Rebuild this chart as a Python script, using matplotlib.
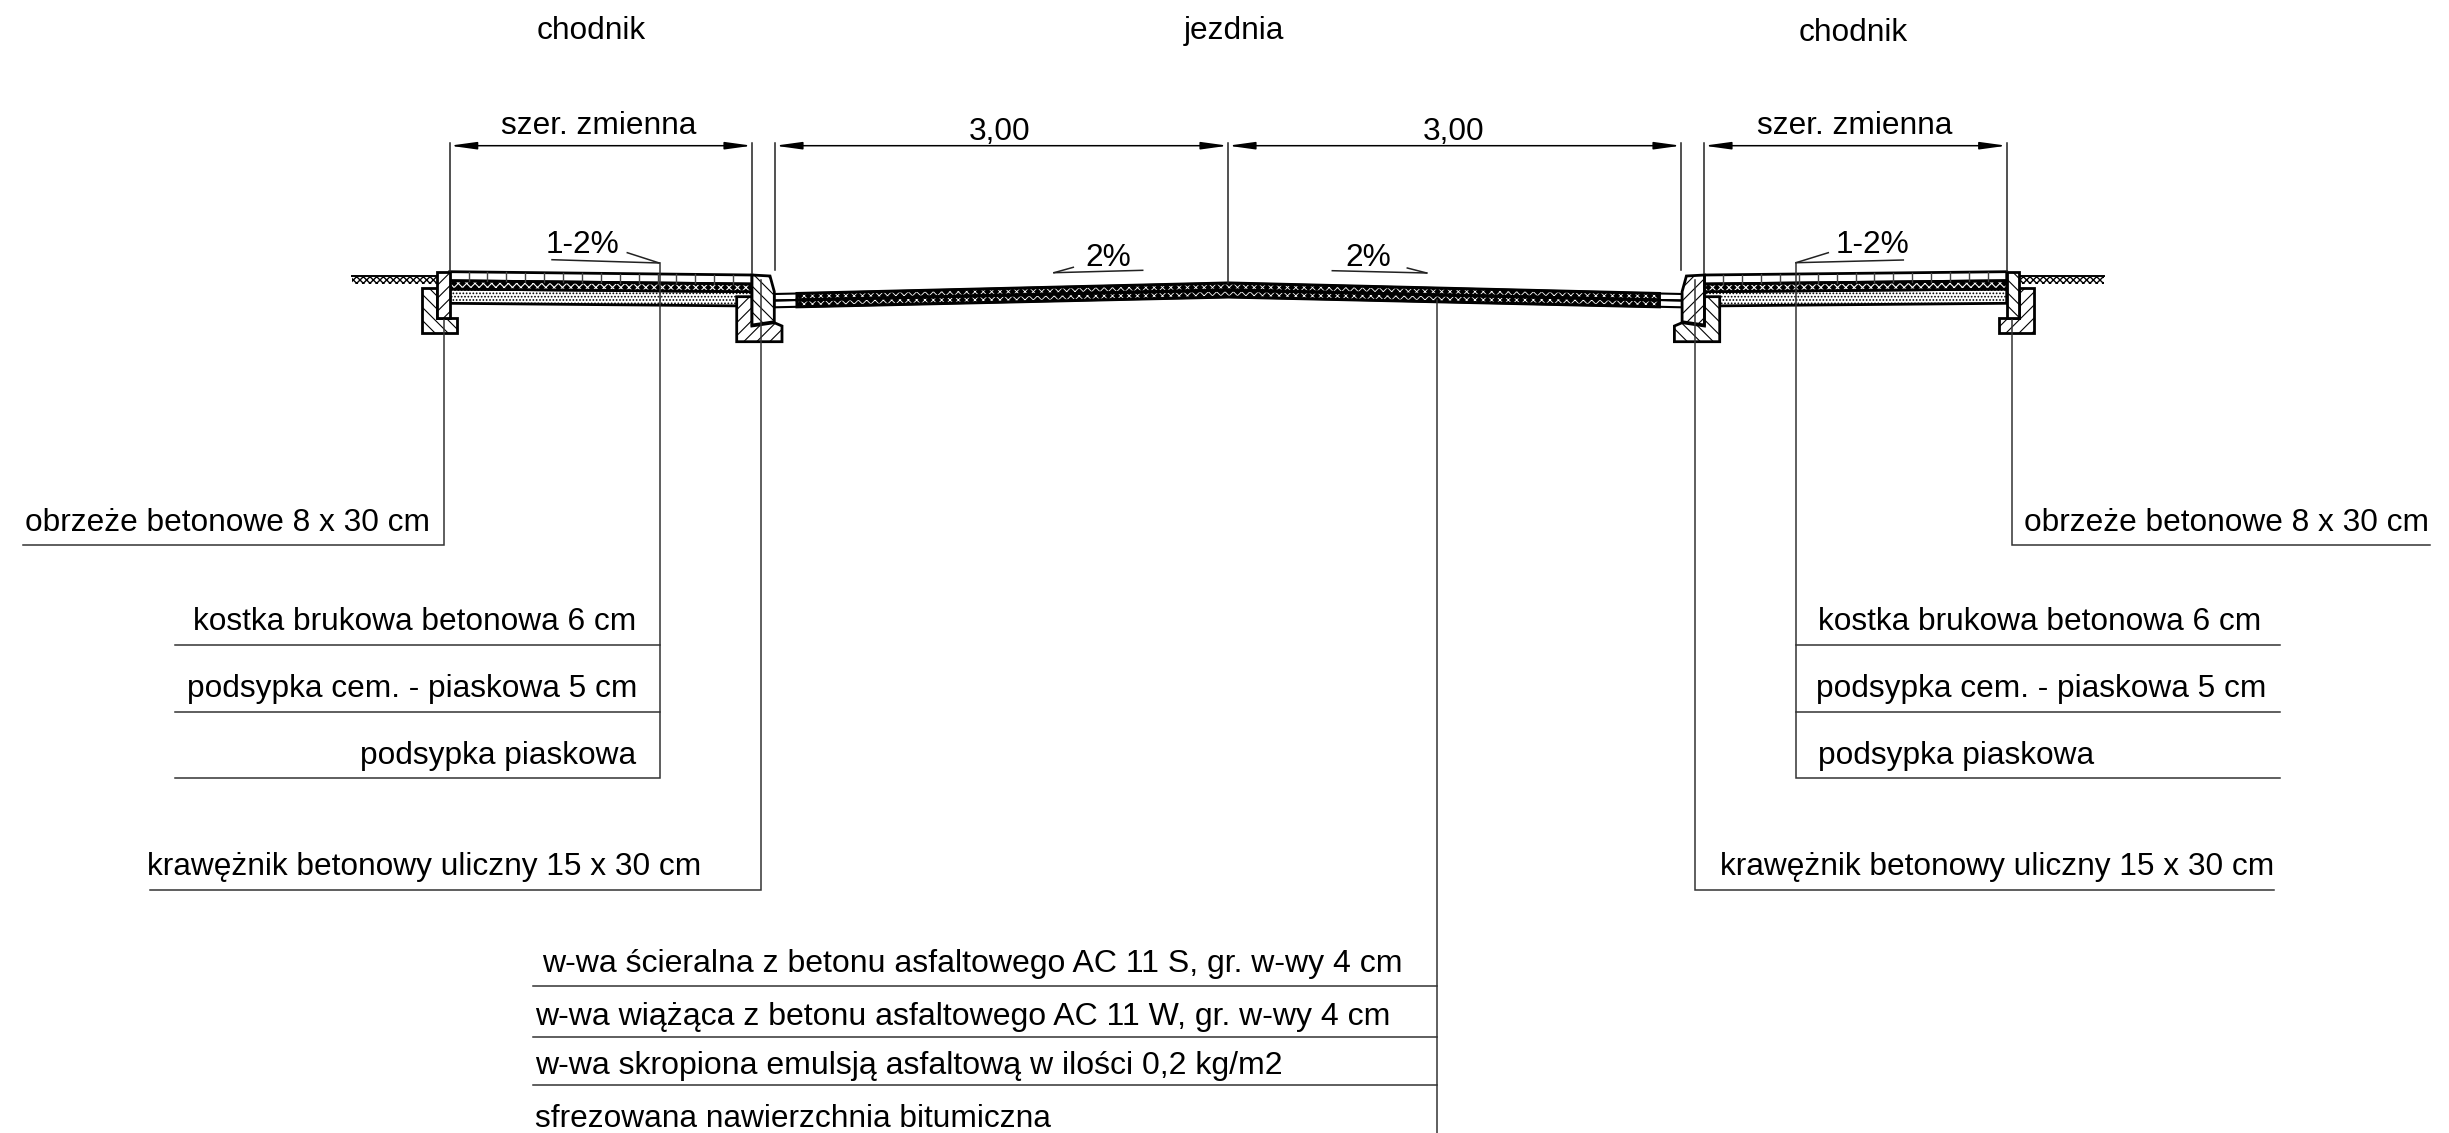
"""Przekroj drogi: chodnik / jezdnia / chodnik."""
import matplotlib
matplotlib.use("Agg")
import matplotlib.pyplot as plt
from matplotlib.patches import Polygon, FancyArrowPatch

plt.rcParams["font.family"] = ["Liberation Sans", "DejaVu Sans"]

W, H = 2449, 1133
MIRROR = 2456.4  # x' = MIRROR - x, the right side is the left one flipped
FS = 22.8
FS_ROAD = 23

# --- sidewalk, left side, in picture pixels
pave_x = [449.7, 752]
pave_top = [271.7, 275]
pave_bot = [280.7, 284]
dark_bot = [289, 291.7]
sand_bot = [303.3, 306]
edging = [(437.3, 272.3), (449.7, 272.3), (449.7, 318), (437.3, 318)]
edging_foot = [(422.3, 288), (437.3, 288), (437.3, 318), (457.3, 318),
               (457.3, 333.3), (422.3, 333.3)]
kerb = [(752, 275), (770, 276), (774.3, 291.7), (774.3, 321.7), (752, 325)]
kerb_foot = [(736.7, 296.7), (752, 296.7), (752, 326), (774.3, 322.7),
             (782, 326), (782, 341.7), (736.7, 341.7)]
grass_x = [352, 437]
grass_y = [276.7, 284]

# --- carriageway
road_x = [774.3, 797, 1228.2, 1659.4, 1682]
road_top = [294, 293.5, 283, 293.5, 294]
road_mid = [300.5, 300, 290, 300, 300.5]
road_bot = [307.3, 306.8, 297, 306.8, 307.3]

# --- dimensions
dim_spans = [(449.7, 752), (775, 1228), (1228, 1681), (1704, 2006.7)]
dim_y = 145.7
ext_lines = [(449.7, 271), (752, 273), (775, 270), (1228, 283),
             (1681, 270), (1704, 273), (2006.7, 271)]
dim_labels = ["szer. zmienna", "3,00", "3,00", "szer. zmienna"]
dim_label_x = [599, 1000, 1454, 1855]
dim_label_y = [134, 140, 140, 134]

section_labels = ["chodnik", "jezdnia", "chodnik"]
section_x = [591, 1234, 1853]
section_y = [39, 39, 41]

# --- slope marks: line start, line end, tick start
slopes = [((552, 259.7), (659.3, 263), (627.3, 252.7)),
          ((1142.7, 270.3), (1054, 272.7), (1073.3, 267.3)),
          ((1332.3, 270.7), (1426.7, 273), (1407.3, 268)),
          ((1903.3, 260), (1796, 262.7), (1828.3, 252.7))]
slope_labels = ["1-2%", "2%", "2%", "1-2%"]
slope_x = [582.7, 1108.7, 1368.3, 1872.7]
slope_y = [252.7, 265.7, 265.7, 252.7]

# --- leaders: polyline points
leaders = [
    [(23, 545), (444.3, 545), (444.3, 320)],
    [(175, 778), (659.7, 778), (659.7, 263)],
    [(175, 712), (659.7, 712)],
    [(175, 645), (659.7, 645)],
    [(150, 890), (760.7, 890), (760.7, 280)],
    [(2430, 545), (2011.7, 545), (2011.7, 320)],
    [(2280, 778), (1795.7, 778), (1795.7, 263)],
    [(2280, 712), (1795.7, 712)],
    [(2280, 645), (1795.7, 645)],
    [(2274, 890), (1695, 890), (1695, 280)],
    [(1436.7, 1133), (1436.7, 300)],
    [(533, 986), (1436.7, 986)],
    [(533, 1037), (1436.7, 1037)],
    [(533, 1085), (1436.7, 1085)],
]

# text, x, baseline y, alignment, size
notes = [
    ("obrzeże betonowe 8 x 30 cm", 430, 531, "right", FS),
    ("kostka brukowa betonowa 6 cm", 636, 630, "right", FS),
    ("podsypka cem. - piaskowa 5 cm", 637, 697, "right", FS),
    ("podsypka piaskowa", 636, 764, "right", FS),
    ("krawężnik betonowy uliczny 15 x 30 cm", 701, 875, "right", FS),
    ("obrzeże betonowe 8 x 30 cm", 2024, 531, "left", FS),
    ("kostka brukowa betonowa 6 cm", 1818, 630, "left", FS),
    ("podsypka cem. - piaskowa 5 cm", 1816, 697, "left", FS),
    ("podsypka piaskowa", 1818, 764, "left", FS),
    ("krawężnik betonowy uliczny 15 x 30 cm", 1720, 875, "left", FS),
    ("w-wa ścieralna z betonu asfaltowego AC 11 S, gr. w-wy 4 cm", 542, 972, "left", FS_ROAD),
    ("w-wa wiążąca z betonu asfaltowego AC 11 W, gr. w-wy 4 cm", 535, 1025, "left", FS_ROAD),
    ("w-wa skropiona emulsją asfaltową w ilości 0,2 kg/m2", 535, 1074, "left", FS_ROAD),
    ("sfrezowana nawierzchnia bitumiczna", 535, 1127, "left", FS),
]


def band(ax, xs, top, bot, hatch="", fc="white", hc="black", lw=2.0, z=2, hatch_lw=0.8):
    """Layer between two polylines; hc colours the texture, outline stays black."""
    plt.rcParams["hatch.linewidth"] = hatch_lw
    pts = list(zip(xs, top)) + list(zip(xs[::-1], bot[::-1]))
    ax.add_patch(Polygon(pts, closed=True, facecolor=fc, edgecolor=hc,
                         hatch=hatch, linewidth=0, zorder=z))
    if lw:
        ax.add_patch(Polygon(pts, closed=True, fill=False, edgecolor="black",
                             linewidth=lw, zorder=z + 0.1))


def concrete(ax, pts, direction, z=4):
    """Concrete piece with 45 deg section lines clipped to its outline."""
    poly = Polygon(pts, closed=True, facecolor="white", edgecolor="black",
                   linewidth=2.0, zorder=z)
    ax.add_patch(poly)
    xs = [p[0] for p in pts]
    ys = [p[1] for p in pts]
    height = max(ys) - min(ys)
    c = min(xs) - height - 13
    while c < max(xs) + height + 13:
        if direction == "/":
            ln, = ax.plot([c, c + height], [max(ys), min(ys)], color="black", lw=0.8, zorder=z + 0.1)
        else:
            ln, = ax.plot([c, c + height], [min(ys), max(ys)], color="black", lw=0.8, zorder=z + 0.1)
        ln.set_clip_path(poly)
        c += 13


def flip_pts(pts):
    return [(MIRROR - x, y) for x, y in pts]


def draw_sidewalk(ax, flip=False):
    tr = flip_pts if flip else (lambda p: p)
    swap = {"/": "\\", "\\": "/"}
    hh = (lambda d: swap[d]) if flip else (lambda d: d)

    def xs_of(xv):
        return [p[0] for p in tr([(x, 0) for x in xv])]

    # grass strip
    gx = xs_of(grass_x)
    band(ax, gx, [grass_y[0]] * 2, [grass_y[1]] * 2, "xxxxx", lw=0, hatch_lw=1.0)
    ax.plot(gx, [grass_y[0] - 0.7] * 2, color="black", lw=1.4, zorder=3)

    # sand, then the dark bedding and the pavers on top
    band(ax, xs_of(pave_x), dark_bot, sand_bot, ".....", z=2)
    band(ax, xs_of(pave_x), pave_bot, dark_bot, "xxxx", fc="black", hc="white", z=3)
    band(ax, xs_of(pave_x), pave_top, pave_bot, z=3)

    # paver joints
    n = 16
    span = pave_x[1] - pave_x[0]
    for i in range(1, n):
        jx = pave_x[0] + i * span / n
        t = pave_top[0] + i / n * (pave_top[1] - pave_top[0])
        b = pave_bot[0] + i / n * (pave_bot[1] - pave_bot[0])
        px = MIRROR - jx if flip else jx
        ax.plot([px, px], [t, b], color="#444444", lw=1.0, zorder=3.5)

    concrete(ax, tr(edging_foot), hh("\\"), z=4)
    concrete(ax, tr(edging), hh("/"), z=5)
    concrete(ax, tr(kerb_foot), hh("/"), z=4)
    concrete(ax, tr(kerb), hh("\\"), z=5)


fig = plt.figure(figsize=(W / 100, H / 100), dpi=100)
ax = fig.add_axes([0, 0, 1, 1])
ax.set_xlim(0, W)
ax.set_ylim(H, 0)
ax.axis("off")

draw_sidewalk(ax)
draw_sidewalk(ax, flip=True)

# carriageway: plain strips next to the kerbs, textured in between
band(ax, road_x, road_top, road_mid, lw=1.5)
band(ax, road_x, road_mid, road_bot, lw=1.5)
band(ax, road_x[1:4], road_top[1:4], road_mid[1:4], "xxxx", fc="black", hc="white", lw=2.2, z=3, hatch_lw=0.6)
band(ax, road_x[1:4], road_mid[1:4], road_bot[1:4], "xxxx", fc="black", hc="white", lw=2.2, z=3, hatch_lw=0.6)

for x0, x1 in dim_spans:
    ax.add_patch(FancyArrowPatch((x0, dim_y), (x1, dim_y),
                                 arrowstyle="<|-|>,head_length=16,head_width=2.2",
                                 mutation_scale=1, shrinkA=0, shrinkB=0,
                                 color="black", lw=1.1, zorder=6))
for x, y1 in ext_lines:
    ax.plot([x, x], [dim_y - 3, y1], color="#222222", lw=1.1, zorder=6)
for s, x, y in zip(dim_labels, dim_label_x, dim_label_y):
    ax.text(x, y, s, ha="center", va="baseline", fontsize=FS)
for s, x, y in zip(section_labels, section_x, section_y):
    ax.text(x, y, s, ha="center", va="baseline", fontsize=FS)

for (a, b, tick), s, x, y in zip(slopes, slope_labels, slope_x, slope_y):
    ax.plot([a[0], b[0]], [a[1], b[1]], color="#222222", lw=1.1, zorder=6)
    ax.plot([tick[0], b[0]], [tick[1], b[1]], color="#222222", lw=1.1, zorder=6)
    ax.text(x, y, s, ha="center", va="baseline", fontsize=FS)

for pts in leaders:
    ax.plot([p[0] for p in pts], [p[1] for p in pts], color="#333333", lw=1.1, zorder=6,
            solid_joinstyle="miter")

for s, x, y, ha, size in notes:
    ax.text(x, y, s, ha=ha, va="baseline", fontsize=size)

fig.savefig("out.png", dpi=100, facecolor="white")
